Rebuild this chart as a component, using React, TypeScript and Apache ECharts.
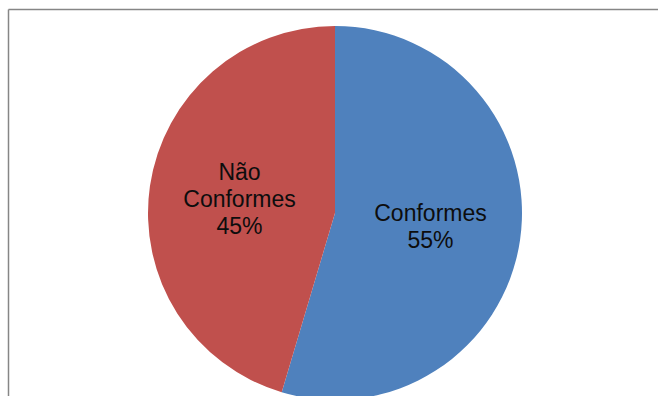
import React, { useEffect, useRef } from "react";
import * as echarts from "echarts";

const categories = ["Conformes", "Não\nConformes"];
const values = [54.6, 45.4];
const colors = ["#4F81BD", "#C0504D"];

export default function App() {
  const ref = useRef<HTMLDivElement>(null);
  useEffect(() => {
    if (!ref.current) return;
    const chart = echarts.init(ref.current, undefined, { renderer: "svg" });
    chart.setOption({
      animation: false,
      backgroundColor: "#ffffff",
      graphic: [
        {
          type: "line",
          shape: { x1: 8.5, y1: 9.5, x2: 700, y2: 9.5 },
          style: { stroke: "#868686", lineWidth: 1.5 },
          silent: true,
        },
        {
          type: "line",
          shape: { x1: 8.5, y1: 9.5, x2: 8.5, y2: 400 },
          style: { stroke: "#868686", lineWidth: 1.5 },
          silent: true,
        },
      ],
      series: [
        {
          type: "pie",
          center: [335, 213],
          radius: [0, 187],
          startAngle: 90,
          clockwise: true,
          percentPrecision: 0,
          label: {
            show: true,
            position: "inside",
            formatter: "{b}\n{d}%",
            fontFamily: "Liberation Sans, Arial, sans-serif",
            fontSize: 23,
            lineHeight: 27,
            color: "#0d0d0d",
          },
          labelLine: { show: false },
          itemStyle: { borderWidth: 0 },
          emphasis: { disabled: true },
          data: categories.map((c, i) => ({
            name: c,
            value: values[i],
            itemStyle: { color: colors[i] },
          })),
        },
      ],
    });
    return () => chart.dispose();
  }, []);
  return (
    <div
      ref={ref}
      style={{ position: "fixed", left: 0, top: 0, width: 658, height: 396 }}
    />
  );
}
